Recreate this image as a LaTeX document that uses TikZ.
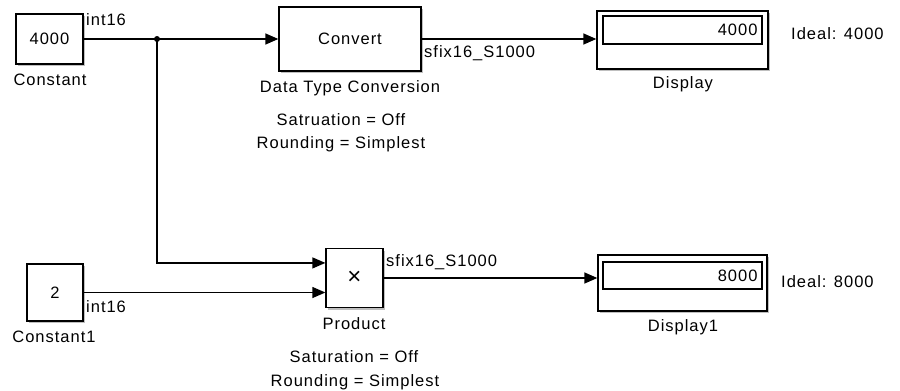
\documentclass[tikz,border=0pt]{standalone}
\usepackage{fontspec}
\setmainfont[LetterSpace=6]{Liberation Sans}
\usetikzlibrary{arrows.meta,calc}
\tikzset{
  blk/.style={draw=black, line width=1.3pt, fill=white, inner sep=0pt,
    preaction={draw=none, fill=black!25, transform canvas={xshift=2pt,yshift=-2pt}}},
  wire/.style={line width=1.3pt},
  sig/.style={wire, -{Triangle[length=13pt,width=11pt]}},
  lbl/.style={inner sep=0pt, font=\fontsize{16.5}{19}\selectfont},
}
\begin{document}
\begin{tikzpicture}[x=1pt, y=-1pt]
\useasboundingbox (0,0) rectangle (900,391);
% Constant
\node[blk, minimum width=67pt, minimum height=50pt, lbl] (const) at (49.5,39) {4000};
\node[lbl] (constlbl) at (50,80) {Constant};
\node[lbl, anchor=west] (consttype) at (86,20) {int16};
% Constant1
\node[blk, minimum width=56pt, minimum height=57pt, lbl] (constone) at (55,292.5) {2};
\node[lbl] (constonelbl) at (54,337) {Constant1};
\node[lbl, anchor=west] (constonetype) at (86,307) {int16};
% Data Type Conversion
\node[blk, minimum width=142pt, minimum height=64pt, lbl] (conv) at (350,39) {Convert};
\node[lbl] (convlbl) at (350,88) {Data Type Conversion};
\node[lbl, anchor=west] (convtype) at (424,53) {sfix16\_S1000};
\node[lbl] (convsat) at (341,120) {Satruation = Off};
\node[lbl] (convrnd) at (341,144) {Rounding = Simplest};
% Product
\node[blk, minimum width=57pt, minimum height=59pt, font=\fontsize{24}{24}\selectfont] (prod) at (354.5,278) {×};
\node[lbl] (prodlbl) at (354,324) {Product};
\node[lbl, anchor=west] (prodtype) at (386,262) {sfix16\_S1000};
\node[lbl] (prodsat) at (354,357) {Saturation = Off};
\node[lbl] (prodrnd) at (355,382) {Rounding = Simplest};
% Display
\node[blk, minimum width=171pt, minimum height=58pt] (disp) at (682.5,40) {};
\node[draw=black, line width=1.3pt, minimum width=159pt, minimum height=28pt, inner sep=0pt] (dispval) at (682.5,30) {};
\node[lbl, anchor=east] (dispnum) at ([xshift=-5pt]dispval.east) {4000};
\node[lbl] (displbl) at (683,84) {Display};
\node[lbl, anchor=west] (dispideal) at (791,34) {Ideal: 4000};
% Display1
\node[blk, minimum width=169pt, minimum height=56pt] (dispone) at (682.5,283) {};
\node[draw=black, line width=1.3pt, minimum width=159pt, minimum height=27pt, inner sep=0pt] (disponeval) at (682.5,275.5) {};
\node[lbl, anchor=east] (disponenum) at ([xshift=-5pt]disponeval.east) {8000};
\node[lbl] (disponelbl) at (683,327) {Display1};
\node[lbl, anchor=west] (disponeideal) at (781,282) {Ideal: 8000};
% Lines
\coordinate (branch) at (157,39);
\coordinate (prodin) at ($(prod.north west)!0.25!(prod.south west)$);
\draw[wire] (const.east) -- (branch);
\draw[sig] (branch) -- (conv.west);
\fill (branch) circle (3pt);
\draw[sig] (branch) |- (prodin);
\draw[sig] (constone.east) -- (constone.east -| prod.west);
\draw[sig] (conv.east) -- (conv.east -| disp.west);
\draw[sig] (prod.east) -- (prod.east -| dispone.west);
\end{tikzpicture}
\end{document}
